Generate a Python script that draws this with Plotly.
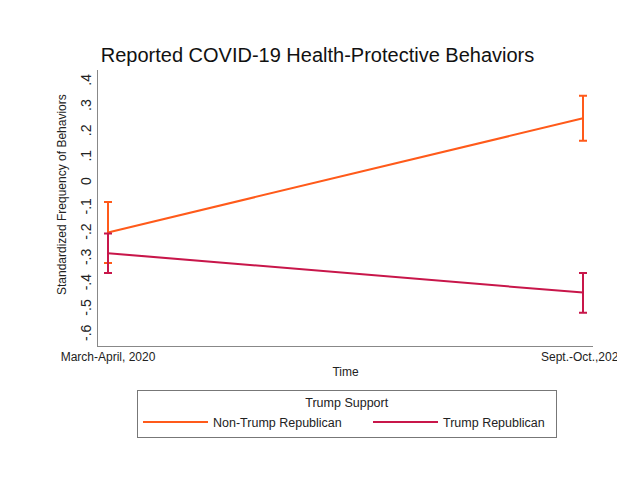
import plotly.graph_objects as go

# ---- data ----
periods = ["March-April, 2020", "Sept.-Oct.,2020"]
period_pos = [0, 1]
groups = ["Non-Trump Republican", "Trump Republican"]
colors = ["#FF5A1A", "#C8164A"]
means = {
    "Non-Trump Republican": [-0.195, 0.256],
    "Trump Republican": [-0.277, -0.433],
}
ci_high = {
    "Non-Trump Republican": [-0.075, 0.345],
    "Trump Republican": [-0.199, -0.355],
}
ci_low = {
    "Non-Trump Republican": [-0.316, 0.167],
    "Trump Republican": [-0.355, -0.513],
}
ytick_vals = [0.4, 0.3, 0.2, 0.1, 0, -0.1, -0.2, -0.3, -0.4, -0.5, -0.6]
ytick_text = [".4", ".3", ".2", ".1", "0", "-.1", "-.2", "-.3", "-.4", "-.5", "-.6"]

FONT = "Liberation Sans, Arial, sans-serif"
legend_entry_widths = [150, 108]

fig = go.Figure()
for g, c, lw in zip(groups, colors, legend_entry_widths):
    m = means[g]
    plus = [h - v for h, v in zip(ci_high[g], m)]
    minus = [v - l for l, v in zip(ci_low[g], m)]
    fig.add_trace(go.Scatter(
        x=period_pos, y=m, mode="lines", name=g, legendwidth=lw,
        line=dict(color=c, width=2),
        error_y=dict(type="data", symmetric=False, array=plus, arrayminus=minus,
                     color=c, thickness=2, width=4),
    ))

fig.update_layout(
    width=625, height=480,
    margin=dict(l=90, r=40, t=62, b=142, autoexpand=False),
    paper_bgcolor="white", plot_bgcolor="white",
    font=dict(family=FONT, size=12, color="#222"),
    title=dict(text="Reported COVID-19 Health-Protective Behaviors",
               x=0.4952, xanchor="center", y=1 - 47 / 480, yanchor="middle",
               yref="container", font=dict(size=20, color="#111")),
    showlegend=True,
    legend=dict(
        orientation="h", x=0.0788, xanchor="left", y=-0.16, yanchor="top",
        title=dict(text="Trump Support", side="top center", font=dict(size=12.5)),
        bordercolor="#777", borderwidth=1, bgcolor="white",
        font=dict(size=12.5), entrywidthmode="pixels", itemwidth=65,
    ),
)
fig.update_xaxes(
    range=[-0.02105, 1.02105], tickvals=period_pos, ticktext=periods,
    showgrid=False, zeroline=False, showline=True, linecolor="#888", linewidth=1,
    ticks="", tickfont=dict(size=12, color="#222"), automargin=False,
    ticklabeloverflow="allow",
    title=dict(text="Time", standoff=4, font=dict(size=12)),
)
fig.update_yaxes(
    range=[-0.644, 0.447], tickvals=ytick_vals, ticktext=ytick_text,
    tickangle=-90, showgrid=False, zeroline=False, showline=True, automargin=False,
    linecolor="#888", linewidth=1, ticks="", tickfont=dict(size=14, color="#222"),
    ticklabelstandoff=0,
)
fig.add_annotation(
    text="Standardized Frequency of Behaviors", textangle=-90,
    xref="paper", yref="paper", x=-0.0727, y=0.547, xanchor="center", yanchor="middle",
    showarrow=False, font=dict(size=12, color="#222"),
)

fig.write_html("out.html")
